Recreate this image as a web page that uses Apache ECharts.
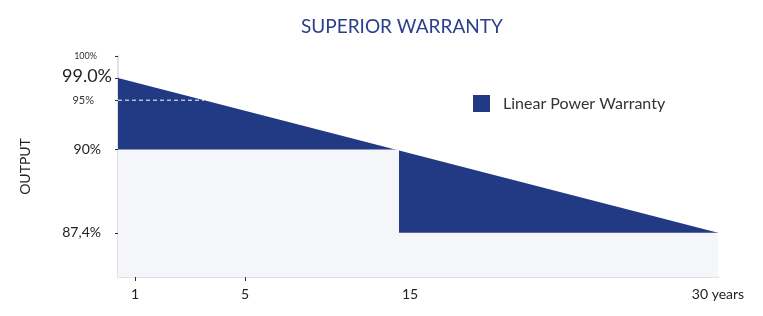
<!DOCTYPE html>
<html>
<head>
<meta charset="utf-8">
<script src="https://cdn.jsdelivr.net/npm/echarts@6/dist/echarts.min.js"></script>
<style>
  html, body { margin: 0; padding: 0; background: #fff; }
  #main { width: 763px; height: 316px; }
</style>
</head>
<body>
<div id="main"></div>
<script>
// the picture is an infographic, axes are not to scale: positions are in drawing units
var yearLabels = ['1', '5', '15', '30 years']
var yearPos = [17, 127, 292, 600]
var outputLabels = ['100%', '99.0%', '95%', '90%', '87,4%']
var outputPos = [220, 198, 176, 127, 44]

// warranty line: start (99.0%) -> end of year 30 (87,4%)
var warrantyLine = [[0, 198], [600, 44]]
// old step warranty: 90% till year 15, then 87,4%
var stepLevels = [[0, 127], [281, 127], [281, 44], [600, 44]]
// dashed guide at 95%
var guide95 = [[0, 176], [86, 176]]

var labelStyles = ['a', 'b', 'c', 'd', 'e']

var chart = echarts.init(document.getElementById('main'))
chart.setOption({
  animation: false,
  title: {
    text: 'SUPERIOR WARRANTY',
    left: 296,
    top: 12,
    textStyle: { color: '#2b3f8f', fontSize: 19, fontWeight: 'normal', fontFamily: 'Lato' }
  },
  legend: {
    left: 468,
    top: 90,
    icon: 'rect',
    itemWidth: 17,
    itemHeight: 17,
    data: ['Linear Power Warranty'],
    textStyle: { color: '#333', fontSize: 16, fontFamily: 'Lato', padding: [0, 0, 0, 8] }
  },
  grid: { left: 118, right: 45, top: 56, bottom: 39 },
  xAxis: {
    type: 'value',
    min: 0,
    max: 600,
    splitLine: { show: false },
    axisLine: { lineStyle: { color: '#e1e2e7', width: 2 } },
    axisTick: { customValues: yearPos.slice(0, 2), length: 4, lineStyle: { color: '#333' } },
    axisLabel: {
      customValues: yearPos,
      margin: 10,
      color: '#222',
      fontSize: 14,
      fontFamily: 'Lato',
      formatter: function (v) {
        return yearLabels[yearPos.indexOf(v)]
      }
    }
  },
  yAxis: {
    type: 'value',
    min: 0,
    max: 220,
    name: 'OUTPUT',
    nameLocation: 'middle',
    nameGap: 86,
    nameTextStyle: { color: '#222', fontSize: 14, fontFamily: 'Lato' },
    splitLine: { show: false },
    axisLine: { show: true, lineStyle: { color: '#e1e2e7', width: 2 } },
    axisTick: { show: true, customValues: outputPos, length: 3, lineStyle: { color: '#333' } },
    axisLabel: {
      customValues: outputPos,
      margin: 6,
      formatter: function (v) {
        var i = outputPos.indexOf(v)
        return '{' + labelStyles[i] + '|' + outputLabels[i] + '}'
      },
      rich: {
        a: { fontSize: 9, color: '#333', fontFamily: 'Lato', padding: [0, 15, 0, 0] },
        b: { fontSize: 18, color: '#222', fontFamily: 'Lato', padding: [0, 0, 4, 0] },
        c: { fontSize: 11, color: '#333', fontFamily: 'Lato', padding: [0, 18, 0, 0] },
        d: { fontSize: 14, color: '#222', fontFamily: 'Lato', padding: [0, 11, 0, 0] },
        e: { fontSize: 14, color: '#222', fontFamily: 'Lato', padding: [0, 11, 0, 0] }
      }
    }
  },
  series: [
    {
      name: 'Linear Power Warranty',
      type: 'line',
      data: warrantyLine,
      symbol: 'none',
      lineStyle: { width: 0 },
      itemStyle: { color: '#223984' },
      areaStyle: { color: '#223984', opacity: 1 }
    },
    {
      name: 'Standard',
      type: 'line',
      data: stepLevels,
      symbol: 'none',
      lineStyle: { width: 0 },
      itemStyle: { color: '#f5f6f9' },
      areaStyle: { color: '#f5f6f9', opacity: 1 }
    },
    {
      name: 'guide',
      type: 'line',
      data: guide95,
      symbol: 'none',
      lineStyle: { color: '#ffffff', width: 1, type: [4, 3] }
    }
  ]
})
</script>
</body>
</html>
